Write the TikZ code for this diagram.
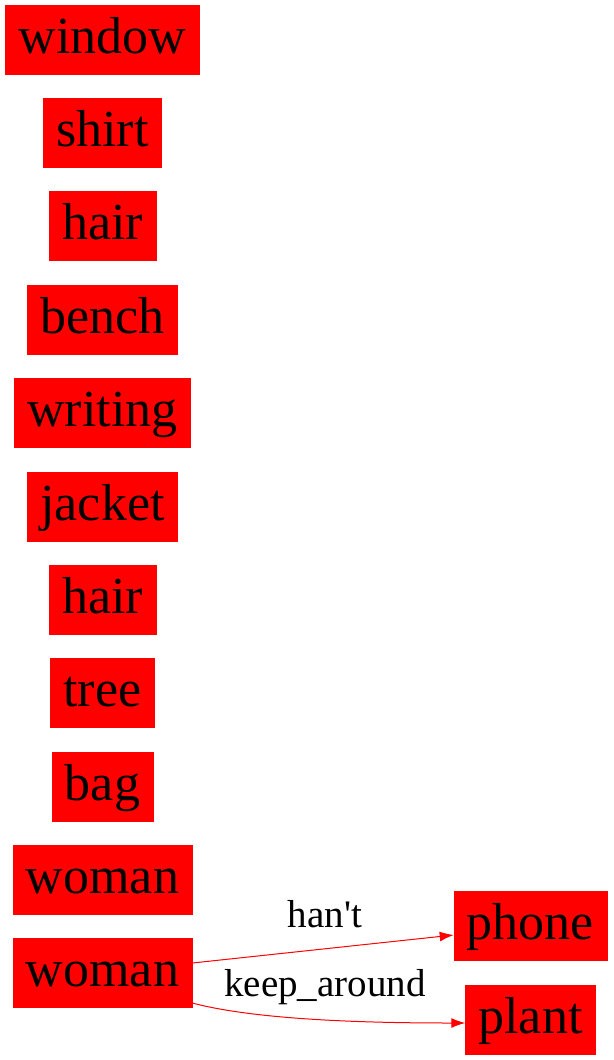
\documentclass[tikz,border=0pt]{standalone}
\usepackage{fontspec}
\setmainfont{Liberation Serif}
\newfontfamily\lblfont{Liberation Serif}[Ligatures=TeXOff]
\usetikzlibrary{arrows.meta}
\begin{document}
\begin{tikzpicture}[x=1pt,y=-1pt,
  obj/.style={fill=red,draw=red,line width=0.5pt,minimum height=69pt,inner xsep=13pt,inner ysep=0pt,
    text height=40pt,text depth=13pt,font=\fontsize{52}{60}\selectfont},
  rel/.style={draw=red,line width=1pt,-{Latex[length=14pt,width=10pt]}},
  lbl/.style={font=\lblfont\fontsize{39}{44}\selectfont,inner sep=0pt,anchor=base}]
\useasboundingbox (0,0) rectangle (613,1060);
\node[obj] (n1) at (102.5,39.5) {window};
\node[obj] (n2) at (102.5,132.5) {shirt};
\node[obj] (n3) at (102.5,225.5) {hair};
\node[obj] (n4) at (102.5,319.5) {bench};
\node[obj] (n5) at (102.5,412.5) {writing};
\node[obj] (n6) at (102.5,506.5) {jacket};
\node[obj] (n7) at (102.5,599.5) {hair};
\node[obj] (n8) at (102.5,692.5) {tree};
\node[obj] (n9) at (102.5,786.5) {bag};
\node[obj] (n10) at (102.5,879.5) {woman};
\node[obj] (n11) at (102.5,972.5) {woman};
\node[obj] (n12) at (530.5,925.5) {phone};
\node[obj] (n13) at (530.5,1019.5) {plant};
\coordinate (a1) at ([yshift=9.5pt]n11.east);
\coordinate (a2) at ([yshift=-9.5pt]n12.west);
\draw[rel] (a1) -- (a2);
\coordinate (b1) at ([yshift=-30.5pt]n11.east);
\coordinate (b2) at ([yshift=-3.5pt]n13.west);
\draw[rel] (b1) .. controls (260,1021) and (380,1023) .. (b2);
\node[lbl] (l1) at (325,927) {han't};
\node[lbl] (l2) at (325,996) {keep\_around};
\end{tikzpicture}
\end{document}
